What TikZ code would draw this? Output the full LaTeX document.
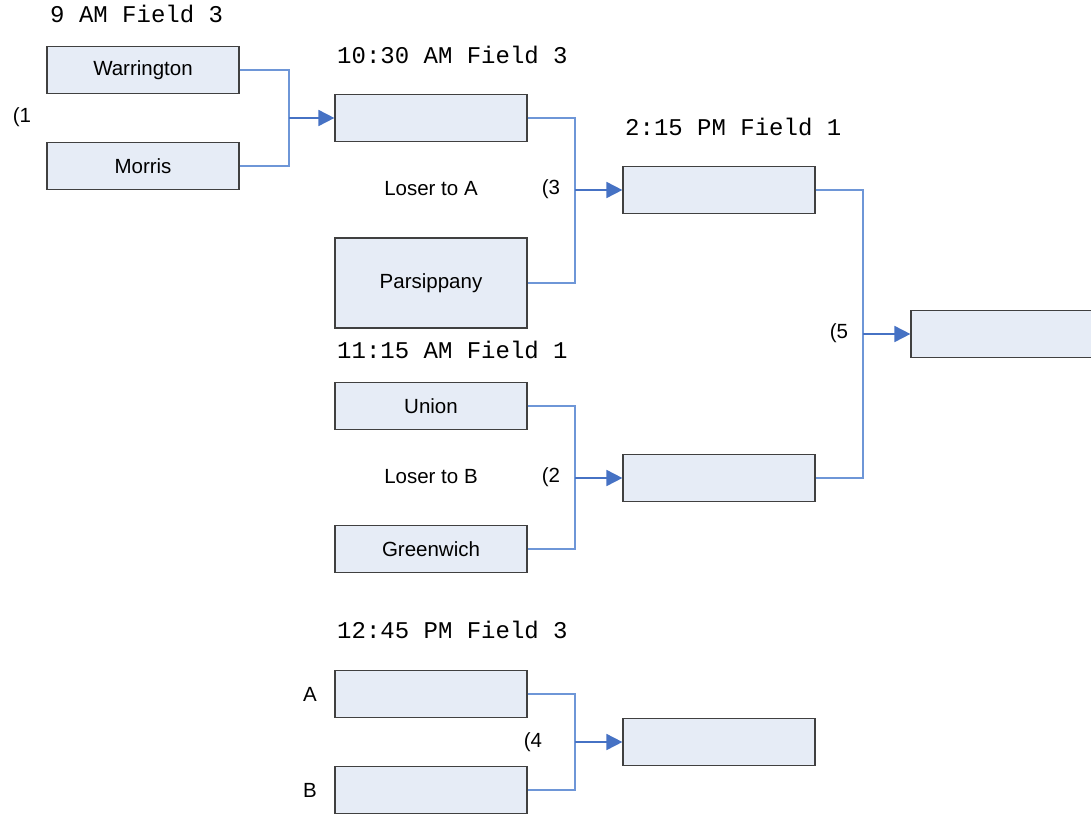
\documentclass[tikz,border=0pt]{standalone}
\usepackage{fontspec}
\setmainfont{Liberation Sans}
\setmonofont{Liberation Mono}
\usetikzlibrary{arrows.meta,positioning}

\definecolor{boxfill}{RGB}{230,236,246}
\definecolor{boxline}{RGB}{64,64,64}
\definecolor{linkblue}{RGB}{110,150,215}
\definecolor{feedblue}{RGB}{70,114,196}

\begin{document}
\begin{tikzpicture}[x=1pt,y=-1pt,
    team/.style={draw=boxline,fill=boxfill,line width=1.2pt,minimum width=192pt,
      minimum height=47pt,inner sep=0pt,font=\fontsize{20.5}{24}\selectfont},
    slot/.style={anchor=base west,inner sep=0pt,font=\ttfamily\fontsize{24}{28}\selectfont},
    note/.style={inner sep=0pt,font=\fontsize{20.5}{24}\selectfont},
    link/.style={draw=linkblue,line width=1.1pt},
    feed/.style={draw=feedblue,line width=1.8pt,-{Triangle[length=16pt,width=16pt]}}]
  \useasboundingbox (0,0) rectangle (1091,813);

  % game 1
  \node[slot] (t1) at (50,23) {9 AM Field 3};
  \node[team] (war) at (143,70) {Warrington};
  \node[team] (mor) at (143,166) {Morris};
  \node[note] (g1) at (22,117) {(1};
  \coordinate (j1) at (289,118);

  % game 3
  \node[slot] (t3) at (337,64) {10:30 AM Field 3};
  \node[team] (w1) at (431,118) {};
  \node[note] (la) at (431,189) {Loser to A};
  \node[team,minimum height=90pt] (par) at (431,283) {Parsippany};
  \node[note] (g3) at (551,189) {(3};
  \coordinate (j3) at (575,190);

  % game 2
  \node[slot] (t2) at (337,358) {11:15 AM Field 1};
  \node[team] (uni) at (431,406) {Union};
  \node[note] (lb) at (431,477) {Loser to B};
  \node[team] (gre) at (431,549) {Greenwich};
  \node[note] (g2) at (551,477) {(2};
  \coordinate (j2) at (575,478);

  % game 5
  \node[slot] (t5) at (625,136) {2:15 PM Field 1};
  \node[team] (w3) at (719,190) {};
  \node[team] (w2) at (719,478) {};
  \node[note] (g5) at (839,333) {(5};
  \coordinate (j5) at (863,334);
  \node[team] (w5) at (1007,334) {};

  % game 4
  \node[slot] (t4) at (337,638) {12:45 PM Field 3};
  \node[team] (ta) at (431,694) {};
  \node[team] (tb) at (431,790) {};
  \node[note] (la2) at (310,694) {A};
  \node[note] (lb2) at (310,790) {B};
  \node[note] (g4) at (533,742) {(4};
  \coordinate (j4) at (575,742);
  \node[team] (w4) at (719,742) {};

  \path[link] (war.east) -| (j1) |- (mor.east);
  \path[link] (w1.east) -| (j3) |- (par.east);
  \path[link] (uni.east) -| (j2) |- (gre.east);
  \path[link] (w3.east) -| (j5) |- (w2.east);
  \path[link] (ta.east) -| (j4) |- (tb.east);
  \draw[feed] (j1) -- (w1.west);
  \draw[feed] (j3) -- (w3.west);
  \draw[feed] (j2) -- (w2.west);
  \draw[feed] (j5) -- (w5.west);
  \draw[feed] (j4) -- (w4.west);
\end{tikzpicture}
\end{document}
